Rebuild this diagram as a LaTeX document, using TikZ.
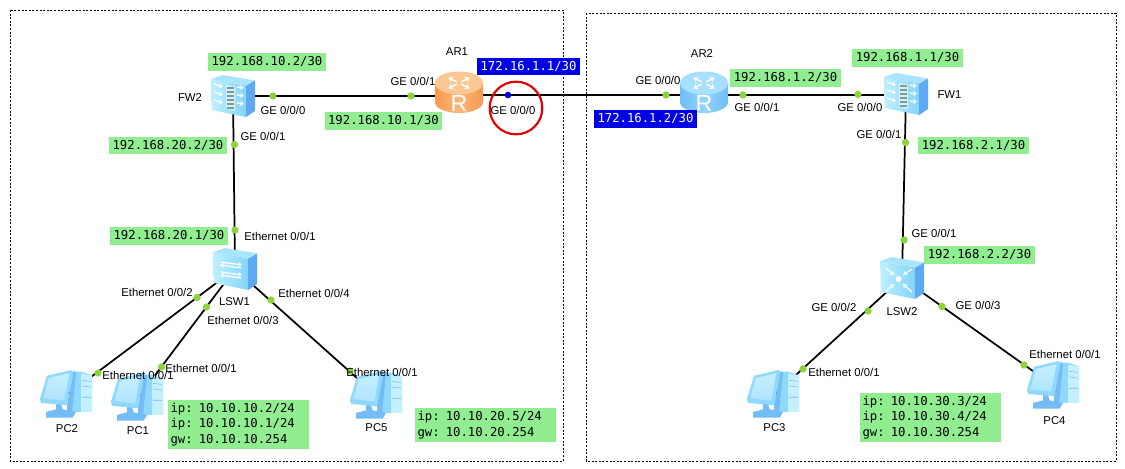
\documentclass[tikz,border=0pt]{standalone}
\usepackage{fontspec}
\setmainfont{Liberation Sans}
\setmonofont{DejaVu Sans Mono}
\usetikzlibrary{arrows.meta}
\definecolor{lblgreen}{HTML}{90EE90}
\definecolor{lblblue}{HTML}{0000E6}
\definecolor{dotgreen}{HTML}{8CD43C}
\definecolor{orngtop}{HTML}{FBC792}
\definecolor{orngbody}{HTML}{F59A4E}
\definecolor{orngpale}{HTML}{FBB678}
\definecolor{bluetop}{HTML}{A8E0FF}
\definecolor{bluebody}{HTML}{6FBDF6}
\definecolor{bluepale}{HTML}{94D4FF}
\definecolor{boxtop}{HTML}{A8E4FC}
\definecolor{boxfront}{HTML}{BDF0FF}
\definecolor{boxfronttwo}{HTML}{84D4FA}
\definecolor{boxside}{HTML}{5FA8F4}
\definecolor{pcpale}{HTML}{C4F0FF}
\definecolor{pcmid}{HTML}{8FD8FF}
\definecolor{pcdark}{HTML}{74BCF6}
\definecolor{brick}{HTML}{7F9C8C}
\newcommand{\addrbox}[7]{%
  \pgfmathsetmacro{\cxv}{(#3+#5)/2}\pgfmathsetmacro{\cyv}{(#4+#6)/2}%
  \pgfmathsetmacro{\wv}{(#5-#3)*0.75}\pgfmathsetmacro{\hv}{(#6-#4)*0.75}%
  \node[#1,minimum width=\wv pt,minimum height=\hv pt] (#2) at (\cxv,\cyv) {#7};}
\tikzset{
  x=0.75pt,y=-0.75pt,
  dev/.style={inner sep=0pt,minimum size=0pt},
  link/.style={draw=black,line width=1.3pt},
  dotg/.style={circle,fill=dotgreen,inner sep=0pt,minimum size=5.5pt},
  dotb/.style={circle,fill=lblblue,inner sep=0pt,minimum size=5pt},
  port/.style={font=\fontsize{8.5pt}{10pt}\selectfont,inner sep=0pt,text=black},
  greenbox/.style={fill=lblgreen,inner sep=0pt,font=\ttfamily\fontsize{9.2pt}{11.6pt}\selectfont,text=black},
  greenblock/.style={greenbox,align=left,text width=102pt},
  bluebox/.style={fill=lblblue,inner sep=0pt,font=\ttfamily\fontsize{9.2pt}{11.6pt}\selectfont,text=white},
  zone/.style={draw=black,line width=0.75pt,dash pattern=on 1.5pt off 1.2pt},
  wharrow/.style={draw=white,line width=1pt,-{Stealth[length=3pt,width=4pt]}},
  boxshape/.pic={
    \path[left color=boxfront,right color=boxfronttwo] (-22,-17) -- (13,-10.5) -- (13,21) -- (-21,14) -- cycle;
    \fill[boxside] (13,-10.5) -- (22,-15.5) -- (22,15) -- (13,21) -- cycle;
    \fill[boxtop] (-22,-17) -- (-10,-21) -- (22,-15.5) -- (13,-10.5) -- cycle;
  },
  fwicon/.pic={
    \pic {boxshape};
    \fill[white,opacity=.55] (-7,-11) -- (2,-9.5) -- (2,15) -- (-7,13) -- cycle;
    \foreach \yy in {-9,-5,-1,3,7,11}{\fill[brick] (-6,\yy) rectangle (1,\yy+2.4);}
    \foreach \yy in {-7,1,9}{
      \draw[wharrow] (-19,\yy-5) -- (-10,\yy-3+1);
      \draw[wharrow] (4,\yy-2) -- (11,\yy-1);
    }
  },
  swicon/.pic={
    \pic {boxshape};
    \draw[wharrow] (-14,-7) -- (7,-4);
    \draw[wharrow] (6,-1) -- (-15,-4);
    \draw[wharrow] (-14,3) -- (7,6);
    \draw[wharrow] (6,9) -- (-15,6);
  },
  coreicon/.pic={
    \pic {boxshape};
    \fill[white] (-3.5,1) circle (3);
    \draw[wharrow] (-16,-10) -- (-8,-3);
    \draw[wharrow] (10,-9) -- (1,-3);
    \draw[wharrow] (-16,13) -- (-8,6);
    \draw[wharrow] (10,14) -- (1,6);
  },
  rtricon/.pic={
    \path[left color=#1body,right color=#1body,middle color=#1pale] (-24,-9) -- (-24,10) arc[start angle=180,end angle=0,x radius=24,y radius=11] -- (24,-9) -- cycle;
    \fill[#1top] (0,-9) ellipse[x radius=24,y radius=11.5];
    \begin{scope}[yshift=6.75pt,yscale=.5]
      \foreach \aa in {45,135,225,315}{
        \draw[white,line width=1.1pt,rotate=\aa,-{Stealth[length=3.5pt,width=5pt]}] (3,0) -- (15,0);
      }
    \end{scope}
    \node[dev,text=white,font=\fontsize{17.5pt}{17.5pt}\selectfont] at (0,11) {R};
  },
  pcicon/.pic={
    \begin{scope}[yscale=1.13]
    \fill[pcmid] (5.7,-20.7) -- (14,-20.7) -- (25,-17.3) -- (25,15) -- (5,15) -- cycle;
    \fill[pcpale] (14,-19) -- (25,-17.3) -- (25,15) -- (14,15) -- cycle;
    \draw[pcdark,line width=.4pt] (15,-13) -- (24,-12) (15,-8) -- (24,-7) (15,2) -- (24,2);
    \fill[pcdark] (-21,15) -- (-11,12.7) -- (-11,8) -- (-6,8) -- (-4.3,12.7) -- (9,15) -- (5.7,20) -- (-21,20) -- cycle;
    \fill[pcmid] (-20,-17) -- (4,-22) -- (6.7,-21) -- (0,9) -- (-26,7) -- (-27,3.3) -- cycle;
    \path[top color=pcpale,bottom color=pcmid!70!white] (-18.3,-15) -- (2.3,-19.3) -- (-2.7,5) -- (-23.7,2.7) -- cycle;
    \fill[pcdark] (6.7,-21) -- (9,-20) -- (5,15) -- (0,15) -- (0,9) -- cycle;
    \end{scope}
  },
}
\begin{document}
\begin{tikzpicture}
\useasboundingbox (0,0) rectangle (1125,468);
\fill[white] (0,0) rectangle (1125,468);
% zones
\draw[zone] (10,10) rectangle (563,461);
\draw[zone] (586,13) rectangle (1116,461);
% device anchors
\node[dev] (fw2) at (233,96) {};
\node[dev] (ar1) at (459,92) {};
\node[dev] (ar2) at (704,92) {};
\node[dev] (fw1) at (906,94) {};
\node[dev] (lsw1) at (235,269) {};
\node[dev] (lsw2) at (902,278) {};
\node[dev] (pc2) at (67,395) {};
\node[dev] (pc1) at (138,398) {};
\node[dev] (pc5) at (377,396) {};
\node[dev] (pc3) at (774,395) {};
\node[dev] (pc4) at (1054,386) {};
% links
\draw[link] (fw2.center) -- (ar1.center |- fw2.center);
\draw[link] (ar1.center |- 0,95) -- (ar2.center |- 0,95);
\draw[link] (ar2.center |- 0,95) -- (fw1.center |- 0,95);
\draw[link] (fw2.center) -- (lsw1.center);
\draw[link] (fw1.center) -- (lsw2.center);
\draw[link] (lsw1.center) -- (pc2.center);
\draw[link] (lsw1.center) -- (pc1.center);
\draw[link] (lsw1.center) -- (pc5.center);
\draw[link] (lsw2.center) -- (pc3.center);
\draw[link] (lsw2.center) -- (pc4.center);
% icons
\pic at (fw2) {fwicon};
\pic at (fw1) {fwicon};
\pic at (lsw1) {swicon};
\pic at (lsw2) {coreicon};
\pic at (ar1) {rtricon=orng};
\pic at (ar2) {rtricon=blue};
\pic at (pc2) {pcicon};
\pic at (pc1) {pcicon};
\pic at (pc5) {pcicon};
\pic at (pc3) {pcicon};
\pic at (pc4) {pcicon};
% port dots
\node[dotg] (d1) at (273,96) {};
\node[dotg] (d2) at (234.5,144.5) {};
\node[dotg] (d3) at (411,96) {};
\node[dotb] (d4) at (508,95) {};
\node[dotg] (d5) at (666,95) {};
\node[dotg] (d6) at (743,95) {};
\node[dotg] (d7) at (858,94.5) {};
\node[dotg] (d8) at (905.5,142.5) {};
\node[dotg] (d9) at (904,240) {};
\node[dotg] (d10) at (235,230) {};
\node[dotg] (d11) at (197,297.5) {};
\node[dotg] (d12) at (206.5,307) {};
\node[dotg] (d13) at (271,300) {};
\node[dotg] (d14) at (98,373) {};
\node[dotg] (d15) at (161.5,367) {};
\node[dotg] (d16) at (350,371) {};
\node[dotg] (d17) at (868,311) {};
\node[dotg] (d18) at (942,306.5) {};
\node[dotg] (d19) at (803,369) {};
\node[dotg] (d20) at (1024,365) {};
% circle mark
\node[draw=red!90!black,line width=1.6pt,circle,minimum size=39.5pt,inner sep=0pt] (mark) at (516,108) {};
% names
\node[port] (nfw2) at (190,98) {FW2};
\node[port] (nar1) at (457,52) {AR1};
\node[port] (nar2) at (702,54) {AR2};
\node[port] (nfw1) at (949.5,95) {FW1};
\node[port] (nlsw1) at (234.5,302) {LSW1};
\node[port] (nlsw2) at (902,312) {LSW2};
\node[port] (npc2) at (67,429) {PC2};
\node[port] (npc1) at (138,431) {PC1};
\node[port] (npc5) at (376.5,428) {PC5};
\node[port] (npc3) at (774.5,428) {PC3};
\node[port] (npc4) at (1054.5,421) {PC4};
% port labels
\node[port] (p1) at (283,110) {GE 0/0/0};
\node[port] (p2) at (263,136) {GE 0/0/1};
\node[port] (p3) at (413,81) {GE 0/0/1};
\node[port] (p4) at (513,110) {GE 0/0/0};
\node[port] (p5) at (658,80) {GE 0/0/0};
\node[port] (p6) at (757,107) {GE 0/0/1};
\node[port] (p7) at (860,107) {GE 0/0/0};
\node[port] (p8) at (879,134) {GE 0/0/1};
\node[port] (p9) at (934,233) {GE 0/0/1};
\node[port] (p10) at (834,307) {GE 0/0/2};
\node[port] (p11) at (978,305) {GE 0/0/3};
\node[port] (p12) at (844,372) {Ethernet 0/0/1};
\node[port] (p13) at (1065,354) {Ethernet 0/0/1};
\node[port] (p14) at (280,236) {Ethernet 0/0/1};
\node[port] (p15) at (157,292) {Ethernet 0/0/2};
\node[port] (p16) at (243,320) {Ethernet 0/0/3};
\node[port] (p17) at (314,293) {Ethernet 0/0/4};
\node[port] (p18) at (138,375) {Ethernet 0/0/1};
\node[port] (p19) at (201,368) {Ethernet 0/0/1};
\node[port] (p20) at (382,372) {Ethernet 0/0/1};
% address labels
\addrbox{greenbox}{a1}{208}{53}{326}{71}{192.168.10.2/30}
\addrbox{greenbox}{a2}{109}{137}{227}{154}{192.168.20.2/30}
\addrbox{greenbox}{a3}{325}{112}{442}{130}{192.168.10.1/30}
\addrbox{greenbox}{a4}{730}{69}{841}{87}{192.168.1.2/30}
\addrbox{greenbox}{a5}{852}{49}{963}{67}{192.168.1.1/30}
\addrbox{greenbox}{a6}{918}{137}{1029}{154}{192.168.2.1/30}
\addrbox{greenbox}{a7}{924}{246}{1035}{264}{192.168.2.2/30}
\addrbox{greenbox}{a8}{110}{227}{228}{245}{192.168.20.1/30}
\addrbox{bluebox}{a9}{477}{58}{580}{75}{172.16.1.1/30}
\addrbox{bluebox}{a10}{594}{110}{697}{128}{172.16.1.2/30}
\addrbox{greenblock}{a11}{168}{400}{309}{449}{ip: 10.10.10.2/24\\ip: 10.10.10.1/24\\gw: 10.10.10.254}
\addrbox{greenblock}{a12}{415}{408}{556}{442}{ip: 10.10.20.5/24\\gw: 10.10.20.254}
\addrbox{greenblock}{a13}{860}{393}{1001}{442}{ip: 10.10.30.3/24\\ip: 10.10.30.4/24\\gw: 10.10.30.254}
\end{tikzpicture}
\end{document}
